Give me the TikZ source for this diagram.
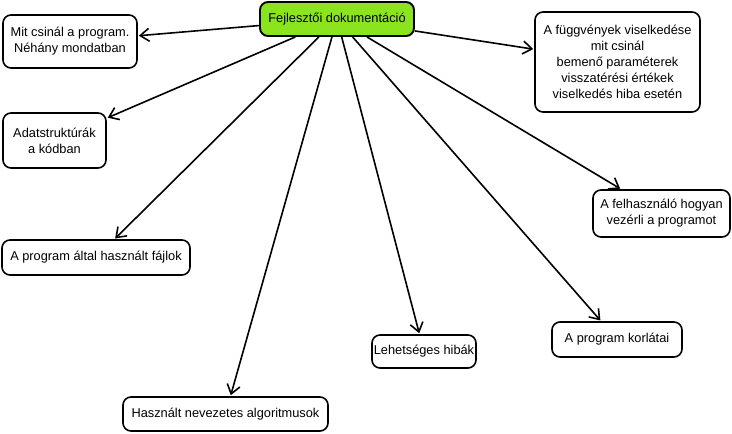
\documentclass[tikz,border=0pt]{standalone}
\usepackage{fontspec}
\setmainfont{Liberation Sans}
\usetikzlibrary{arrows.meta}
\definecolor{rootgreen}{HTML}{8AE51E}
\tikzset{
  box/.style={draw=black, line width=1.6pt, rounded corners=8pt, fill=white, align=center, inner sep=0pt,
    font=\fontsize{12.8}{16}\selectfont},
  rootbox/.style={box, fill=rootgreen, line width=1.9pt},
  link/.style={line width=1.6pt, -{Straight Barb[length=9pt,width=13pt,line width=1.6pt]}, shorten >=1pt}
}
\begin{document}
\begin{tikzpicture}[x=1pt,y=-1pt]
\useasboundingbox (0,0) rectangle (732,434);
\node[rootbox, minimum width=154pt, minimum height=34pt] (root) at (337,19) {Fejlesztői dokumentáció};
\node[box, minimum width=134pt, minimum height=53pt] (mit) at (70,41.5) {Mit csinál a program.\\Néhány mondatban};
\node[box, minimum width=165pt, minimum height=100pt] (func) at (617.5,62) {A függvények viselkedése\\mit csinál\\bemenő paraméterek\\visszatérési értékek\\viselkedés hiba esetén};
\node[box, minimum width=103pt, minimum height=55pt] (adat) at (54.5,140.5) {Adatstruktúrák\\a kódban};
\node[box, minimum width=137pt, minimum height=47pt] (felh) at (661.5,213.5) {A felhasználó hogyan\\vezérli a programot};
\node[box, minimum width=188pt, minimum height=35pt] (fajl) at (96,257.5) {A program által használt fájlok};
\node[box, minimum width=104pt, minimum height=33pt] (hiba) at (424,351.5) {Lehetséges hibák};
\node[box, minimum width=130pt, minimum height=35pt] (korl) at (617,339.5) {A program korlátai};
\node[box, minimum width=205pt, minimum height=34pt] (alg) at (225.5,414) {Használt nevezetes algoritmusok};
\foreach \t in {mit,func,adat,felh,fajl,hiba,korl,alg}
  \draw[link] (root) -- (\t);
\end{tikzpicture}
\end{document}
